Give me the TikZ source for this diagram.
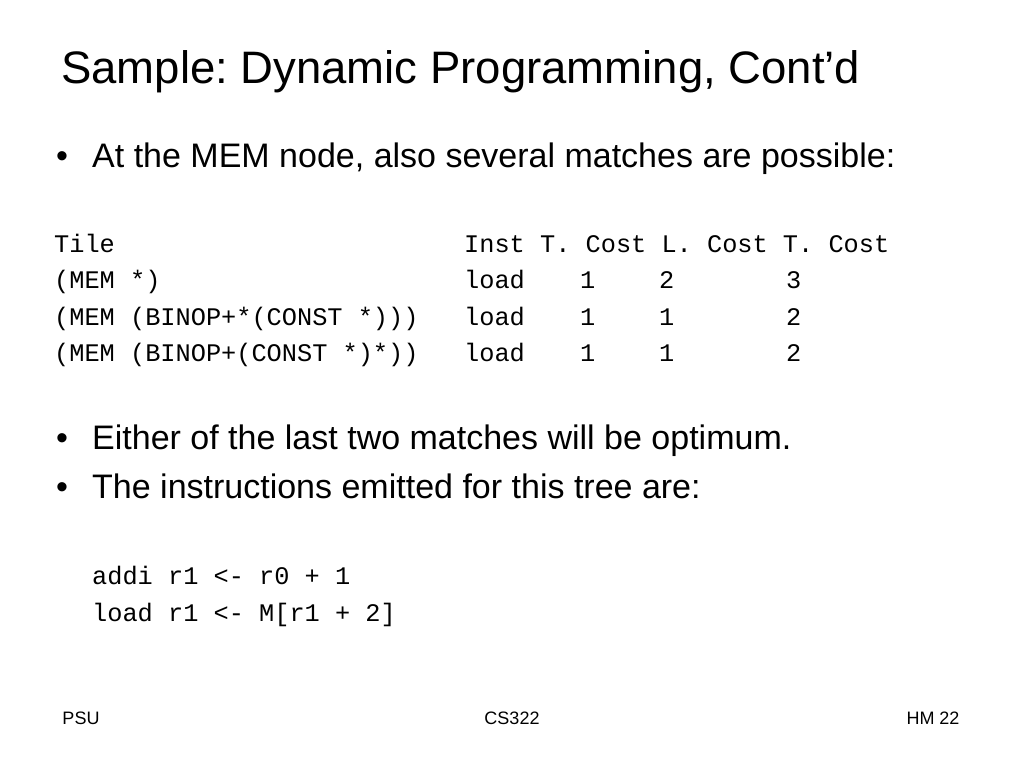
\documentclass[tikz,border=0pt]{standalone}
\usepackage{fontspec}
\setmainfont{Liberation Sans}
\setmonofont{Liberation Mono}
\usetikzlibrary{positioning}
\frenchspacing

\tikzset{
  txt/.style={anchor=base west, inner sep=0pt},
  titletxt/.style={txt, font=\fontsize{45.5}{50}\selectfont},
  bullettxt/.style={txt, font=\fontsize{34}{40}\selectfont},
  tabtxt/.style={txt, font=\fontsize{25.3}{30}\ttfamily},
  foottxt/.style={anchor=base, inner sep=0pt, font=\fontsize{18}{22}\selectfont}
}

\begin{document}
\begin{tikzpicture}[x=1pt, y=-1pt]
  \useasboundingbox[fill=white] (0,0) rectangle (1024,768);

  % Title
  \node[titletxt] (title) at (61, 83) {Sample: Dynamic Programming, Cont'd};

  % First bullet
  \node[bullettxt] (dotA) at (56, 167) {\textbullet};
  \node[bullettxt] (itemA) at (92, 167) {At the MEM node, also several matches are possible:};

  % Table of tiles
  \node[tabtxt] (hTile) at (54, 252) {Tile};
  \node[tabtxt] (hCost) at (464, 252) {Inst T. Cost L. Cost T. Cost};

  \node[tabtxt] (rAtile) at (54, 288) {(MEM *)};
  \node[tabtxt] (rAinst) at (464, 288) {load};
  \node[tabtxt] (rAt) at (580, 288) {1};
  \node[tabtxt] (rAl) at (659, 288) {2};
  \node[tabtxt] (rAtot) at (786, 288) {3};

  \node[tabtxt] (rBtile) at (54, 325) {(MEM (BINOP+*(CONST *)))};
  \node[tabtxt] (rBinst) at (464, 325) {load};
  \node[tabtxt] (rBt) at (580, 325) {1};
  \node[tabtxt] (rBl) at (659, 325) {1};
  \node[tabtxt] (rBtot) at (786, 325) {2};

  \node[tabtxt] (rCtile) at (54, 361) {(MEM (BINOP+(CONST *)*))};
  \node[tabtxt] (rCinst) at (464, 361) {load};
  \node[tabtxt] (rCt) at (580, 361) {1};
  \node[tabtxt] (rCl) at (659, 361) {1};
  \node[tabtxt] (rCtot) at (786, 361) {2};

  % Remaining bullets
  \node[bullettxt] (dotB) at (56, 449) {\textbullet};
  \node[bullettxt] (itemB) at (92, 449) {Either of the last two matches will be optimum.};
  \node[bullettxt] (dotC) at (56, 498) {\textbullet};
  \node[bullettxt] (itemC) at (92, 498) {The instructions emitted for this tree are:};

  % Emitted code
  \node[tabtxt] (codeA) at (92, 584) {addi r1 <- r0 + 1};
  \node[tabtxt] (codeB) at (92, 621) {load r1 <- M[r1 + 2]};

  % Footer
  \node[foottxt] (footL) at (81, 724) {PSU};
  \node[foottxt] (footM) at (512, 724) {CS322};
  \node[foottxt] (footR) at (933, 724) {HM 22};
\end{tikzpicture}
\end{document}
